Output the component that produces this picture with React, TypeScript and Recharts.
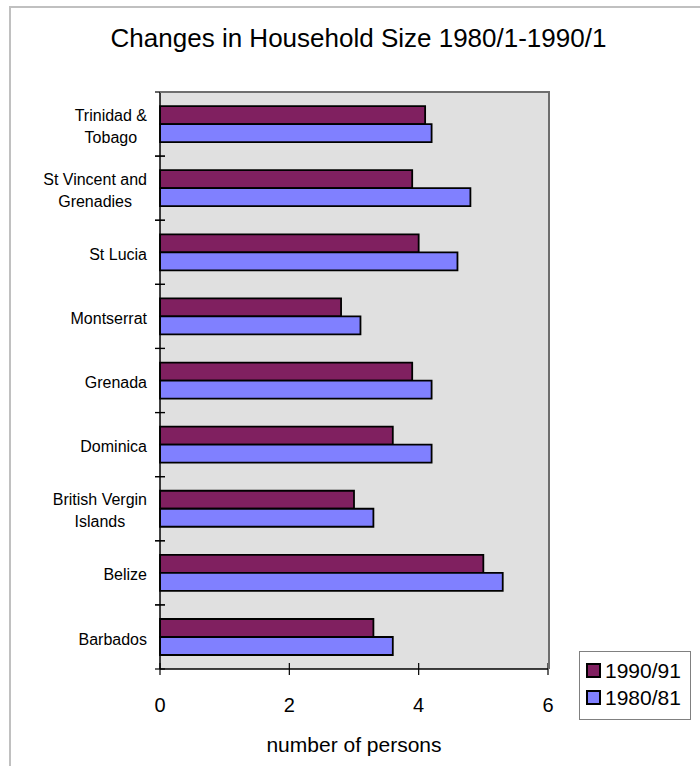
import { BarChart, Bar, XAxis, YAxis, CartesianGrid, Legend } from 'recharts';

// categories listed bottom to top, as in the source sheet
const categories = [
  'Barbados',
  'Belize',
  'British Vergin\nIslands',
  'Dominica',
  'Grenada',
  'Montserrat',
  'St Lucia',
  'St Vincent and\nGrenadies',
  'Trinidad &\nTobago',
];
const size1990 = [3.3, 5.0, 3.0, 3.6, 3.9, 2.8, 4.0, 3.9, 4.1];
const size1980 = [3.6, 5.3, 3.3, 4.2, 4.2, 3.1, 4.6, 4.8, 4.2];
const seriesNames = ['1990/91', '1980/81'];
const xTicks = [0, 2, 4, 6];

const FONT = '"Liberation Sans", Arial, sans-serif';
const MAROON = '#802060';
const BLUE = '#8080FF';
const PLOT_BG = '#E0E0E0';
const FRAME = '#6E6E6E';

const W = 700;
const H = 766;
const MARGIN = { top: 92, right: 152, bottom: 37, left: 10 };
const X_AXIS_H = 60;
const Y_AXIS_W = 150;
const PLOT_W = W - MARGIN.left - MARGIN.right - Y_AXIS_W;
const PLOT_H = H - MARGIN.top - MARGIN.bottom - X_AXIS_H;
const BAND = PLOT_H / categories.length;

const data = categories.map((name, i) => ({
  name,
  y1990: size1990[i],
  y1980: size1980[i],
}));

let ctx: CanvasRenderingContext2D | null = null;
function textWidth(s: string, font: string) {
  if (!ctx) ctx = document.createElement('canvas').getContext('2d');
  if (!ctx) return s.length * 8;
  ctx.font = font;
  return ctx.measureText(s).width;
}

function CategoryTick(props: any) {
  const { x, y, payload } = props;
  const lines = String(payload.value).split('\n');
  const half = payload.offset || BAND / 2;
  const blockW = Math.max(...lines.map(l => textWidth(l, `16px ${FONT}`)));
  const cx = x - 13 - blockW / 2;
  const lh = 22;
  const y0 = y + 2 - ((lines.length - 1) * lh) / 2;
  return (
    <g>
      <line x1={x - 5} x2={x + 5} y1={y - half} y2={y - half} stroke="#000" strokeWidth={1.2} />
      <line x1={x - 5} x2={x + 5} y1={y + half} y2={y + half} stroke="#000" strokeWidth={1.2} />
      {lines.map((l, i) => (
        <text key={i} x={cx} y={y0 + i * lh} dy="0.35em" textAnchor="middle"
          fontFamily={FONT} fontSize={16} fill="#000">{l}</text>
      ))}
    </g>
  );
}

function ValueTick(props: any) {
  const { x, y, payload } = props;
  return (
    <g>
      <line x1={x} x2={x} y1={y - 6} y2={y + 6} stroke="#000" strokeWidth={1.2} />
      <text x={x} y={y + 36} dy="0.35em" textAnchor="middle"
        fontFamily={FONT} fontSize={20} fill="#000">{payload.value}</text>
    </g>
  );
}

function LegendBox(props: any) {
  const items = [...(props.payload || [])].sort(
    (a: any, b: any) => seriesNames.indexOf(a.value) - seriesNames.indexOf(b.value)
  );
  return (
    <div style={{
      width: 112, height: 69, boxSizing: 'border-box', background: '#fff',
      border: '1px solid #808080', padding: '9px 0 0 6px', fontFamily: FONT,
    }}>
      {items.map((it: any) => (
        <div key={it.value} style={{ display: 'flex', alignItems: 'center', height: 35, marginTop: -8 }}>
          <span style={{
            width: 15, height: 15, boxSizing: 'border-box', background: it.color,
            border: '2px solid #000', display: 'inline-block', marginRight: 4,
          }} />
          <span style={{ fontSize: 21, color: '#000' }}>{it.value}</span>
        </div>
      ))}
    </div>
  );
}

export default function App() {
  const plotLeft = MARGIN.left + Y_AXIS_W;
  return (
    <div style={{
      position: 'absolute', left: 0, top: 0, width: W, height: H,
      overflow: 'hidden', background: '#fff',
    }}>
      <div style={{
        position: 'absolute', left: 9, top: 6, width: 900, height: 900,
        borderTop: '2px solid #C0C0C0', borderLeft: '2px solid #C0C0C0',
      }} />
      <div style={{
        position: 'absolute', left: 0, top: 25, width: 717, textAlign: 'center',
        fontFamily: FONT, fontSize: 26, lineHeight: '26px', color: '#000', whiteSpace: 'nowrap',
      }}>
        Changes in Household Size 1980/1-1990/1
      </div>
      <div style={{ position: 'absolute', left: 0, top: 0 }}>
        <BarChart
          width={W}
          height={H}
          data={data}
          layout="vertical"
          margin={MARGIN}
          barCategoryGap="22%"
          barGap={0}
        >
          <CartesianGrid horizontal={false} vertical={false} fill={PLOT_BG} fillOpacity={1} />
          <XAxis
            type="number"
            domain={[0, 6]}
            ticks={xTicks}
            height={X_AXIS_H}
            axisLine={{ stroke: '#000', strokeWidth: 1.5 }}
            tickLine={false}
            tickSize={0}
            tickMargin={0}
            tick={<ValueTick />}
            interval={0}
          />
          <YAxis
            type="category"
            dataKey="name"
            reversed
            width={Y_AXIS_W}
            axisLine={{ stroke: '#000', strokeWidth: 1.5 }}
            tickLine={false}
            tickSize={0}
            tickMargin={0}
            tick={<CategoryTick />}
            interval={0}
          />
          <Bar dataKey="y1990" name={seriesNames[0]} fill={MAROON} stroke="#000" strokeWidth={1.8} isAnimationActive={false} />
          <Bar dataKey="y1980" name={seriesNames[1]} fill={BLUE} stroke="#000" strokeWidth={1.8} isAnimationActive={false} />
          <Legend
            layout="vertical"
            align="center"
            verticalAlign="middle"
            content={<LegendBox />}
            wrapperStyle={{ position: 'absolute', left: 579, top: 651, width: 112, height: 69 }}
          />
        </BarChart>
      </div>
      {/* plot frame: gray line along the top and the right side */}
      <div style={{
        position: 'absolute', left: plotLeft, top: MARGIN.top - 1,
        width: PLOT_W + 2, height: PLOT_H + 1, boxSizing: 'border-box',
        borderTop: `2px solid ${FRAME}`, borderRight: `2px solid ${FRAME}`,
        pointerEvents: 'none',
      }} />
      <div style={{
        position: 'absolute', left: plotLeft, top: 734, width: PLOT_W, textAlign: 'center',
        fontFamily: FONT, fontSize: 21, lineHeight: '21px', color: '#000', whiteSpace: 'nowrap',
      }}>
        number of persons
      </div>
    </div>
  );
}
